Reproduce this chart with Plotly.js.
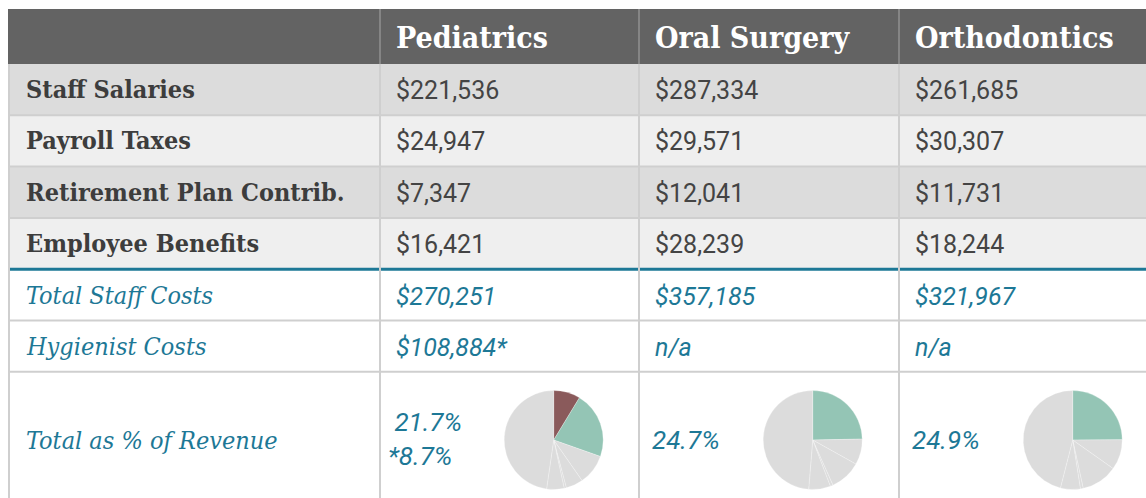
<!DOCTYPE html>
<html><head><meta charset="utf-8">
<script src="https://cdn.plot.ly/plotly-3.0.1.min.js"></script>
<style>html,body{margin:0;padding:0;background:#fff;overflow:hidden}#chart{width:1146px;height:498px;}</style>
</head><body><div id="chart"></div>
<script>
// ---------- data ----------
const specialties = ['Pediatrics', 'Oral Surgery', 'Orthodontics'];
const rowLabels = ['Staff Salaries', 'Payroll Taxes', 'Retirement Plan Contrib.', 'Employee Benefits',
                   'Total Staff Costs', 'Hygienist Costs', 'Total as % of Revenue'];
const pediatricsCosts   = [221536, 24947, 7347, 16421, 270251, 108884];
const oralSurgeryCosts  = [287334, 29571, 12041, 28239, 357185, null];
const orthodonticsCosts = [261685, 30307, 11731, 18244, 321967, null];
const staffPctOfRevenue     = [21.7, 24.7, 24.9];
const hygienistPctOfRevenue = [8.7, null, null];
const sliceLabels = ['Hygienist Costs', 'Total Staff Costs', 'Other A', 'Other B', 'Other C', 'Other D', 'Remainder'];
const pediatricsPie   = [8.7, 21.7, 9.9, 5.6, 0.7, 5.7, 47.7];
const oralSurgeryPie  = [0, 24.7, 8.4, 10.2, 0.9, 7.1, 48.7];
const orthodonticsPie = [0, 24.9, 9.9, 11.8, 0.9, 6.5, 46.0];

// ---------- layout constants ----------
const W = 1146, H = 498;
const tableLeft = 8, tableRight = W + 20;
const colWidths = [372, 259, 260, 280];
const headerTop = 9, headerH = 55, rowH = 51.3, lastRowH = 150;
const padX = 17;
const rowFills = ['#dcdcdc', '#efefef', '#dcdcdc', '#efefef', '#ffffff', '#ffffff', '#ffffff'];
const borderColor = '#cfcfcf', headerFill = '#636363', headerSep = '#858585';
const teal = '#1d7896', dark = '#3d3d3d', valueDark = '#444444';
const slabBold = 'DejaVu Serif Condensed, DejaVu Serif, serif';
const slabItalic = 'DejaVu Serif Condensed, DejaVu Serif, serif';
const sans = 'Roboto, Open Sans, sans-serif';
const pieColors = ['#8a5a5b', '#94c5b5', '#dcdcdc', '#dcdcdc', '#dcdcdc', '#dcdcdc', '#dcdcdc'];
const pieR = 49.5, pieOffsetX = 173.7, pieCenterY = 440;

const colEdges = [tableLeft];
colWidths.forEach(w => colEdges.push(colEdges[colEdges.length - 1] + w));
const rowEdges = [headerTop + headerH];
rowLabels.forEach((_, i) => rowEdges.push(rowEdges[i] + (i === rowLabels.length - 1 ? lastRowH : rowH)));
const tableBottom = rowEdges[rowEdges.length - 1];

const fmt = v => '$' + v.toLocaleString('en-US');
const columnsData = [pediatricsCosts, oralSurgeryCosts, orthodonticsCosts];
const pieData = [pediatricsPie, oralSurgeryPie, orthodonticsPie];

// ---------- shapes ----------
const shapes = [];
shapes.push({type: 'rect', xref: 'x', yref: 'y', x0: tableLeft, x1: tableRight, y0: headerTop, y1: headerTop + headerH,
             fillcolor: headerFill, line: {width: 0}, layer: 'below'});
rowLabels.forEach((_, i) => {
  shapes.push({type: 'rect', xref: 'x', yref: 'y', x0: tableLeft, x1: tableRight, y0: rowEdges[i], y1: rowEdges[i + 1],
               fillcolor: rowFills[i], line: {width: 0}, layer: 'below'});
});
rowLabels.forEach((_, i) => {
  if (i === rowLabels.length - 1) return;
  const isSplit = i === 3;
  shapes.push({type: 'line', xref: 'x', yref: 'y', x0: tableLeft, x1: tableRight, y0: rowEdges[i + 1], y1: rowEdges[i + 1],
               line: {color: isSplit ? teal : borderColor, width: isSplit ? 3 : 2}, layer: 'below'});
});
colEdges.slice(0, 4).forEach((x, j) => {
  const xx = j === 0 ? x + 1 : x;
  if (j > 0) shapes.push({type: 'line', xref: 'x', yref: 'y', x0: xx, x1: xx, y0: headerTop, y1: headerTop + headerH,
                          line: {color: headerSep, width: 2}, layer: 'below'});
  shapes.push({type: 'line', xref: 'x', yref: 'y', x0: xx, x1: xx, y0: headerTop + headerH, y1: tableBottom,
               line: {color: borderColor, width: 2}, layer: 'below'});
});

// ---------- annotations ----------
const annotations = [];
specialties.forEach((s, j) => {
  annotations.push({xref: 'x', yref: 'y', x: colEdges[j + 1] + padX - 3, y: headerTop + headerH / 2 + 1, text: s,
                    showarrow: false, xanchor: 'left', yanchor: 'middle',
                    font: {family: slabBold, size: 30, color: '#ffffff', weight: 'bold'}});
});
rowLabels.forEach((lab, i) => {
  const italic = i >= 4;
  const yc = (rowEdges[i] + rowEdges[i + 1]) / 2 + (i === 4 ? 1 : 0);
  const ylab = i === rowLabels.length - 1 ? pieCenterY : yc;
  annotations.push({xref: 'x', yref: 'y', x: tableLeft + padX - 1, y: ylab, text: italic ? '<i>' + lab + '</i>' : lab,
                    showarrow: false, xanchor: 'left', yanchor: 'middle',
                    font: {family: italic ? slabItalic : slabBold, size: 25, color: italic ? teal : dark,
                           weight: italic ? 'normal' : 'bold'}});
  if (i < 6) {
    columnsData.forEach((col, j) => {
      const v = col[i];
      let t = v === null ? 'n/a' : fmt(v);
      if (i === 5 && v !== null) t += '*';
      annotations.push({xref: 'x', yref: 'y', x: colEdges[j + 1] + padX - 3, y: yc + 1, text: italic ? '<i>' + t + '</i>' : t,
                        showarrow: false, xanchor: 'left', yanchor: 'middle',
                        font: {family: sans, size: 25, color: italic ? teal : valueDark}});
    });
  }
});
staffPctOfRevenue.forEach((p, j) => {
  const h = hygienistPctOfRevenue[j];
  const t = h === null ? p.toFixed(1) + '%' : '\u00a0' + p.toFixed(1) + '%<br>*' + h.toFixed(1) + '%';
  annotations.push({xref: 'x', yref: 'y', x: colEdges[j + 1] + padX - 11 + (h === null ? 5 : 0), y: pieCenterY - (h === null ? 0 : 1),
                    text: '<i>' + t + '</i>', showarrow: false, xanchor: 'left', yanchor: 'middle', align: 'left',
                    font: {family: sans, size: 26, color: teal}});
});

// ---------- pie traces ----------
const traces = pieData.map((vals, j) => {
  const cx = colEdges[j + 1] + pieOffsetX;
  return {
    type: 'pie', values: vals, labels: sliceLabels, sort: false, direction: 'clockwise', rotation: 0,
    textinfo: 'none', hoverinfo: 'label+percent', showlegend: false,
    marker: {colors: pieColors, line: {color: 'rgba(255,255,255,0.5)', width: 0.5}},
    domain: {x: [(cx - pieR) / W, (cx + pieR) / W], y: [(H - pieCenterY - pieR) / H, (H - pieCenterY + pieR) / H]}
  };
});

const layout = {
  width: W, height: H, margin: {l: 0, r: 0, t: 0, b: 0},
  paper_bgcolor: '#ffffff', plot_bgcolor: 'rgba(0,0,0,0)',
  xaxis: {range: [0, W], visible: false, fixedrange: true},
  yaxis: {range: [H, 0], visible: false, fixedrange: true},
  shapes: shapes, annotations: annotations, showlegend: false
};
Plotly.newPlot('chart', traces, layout, {displayModeBar: false, staticPlot: true});
</script></body></html>
